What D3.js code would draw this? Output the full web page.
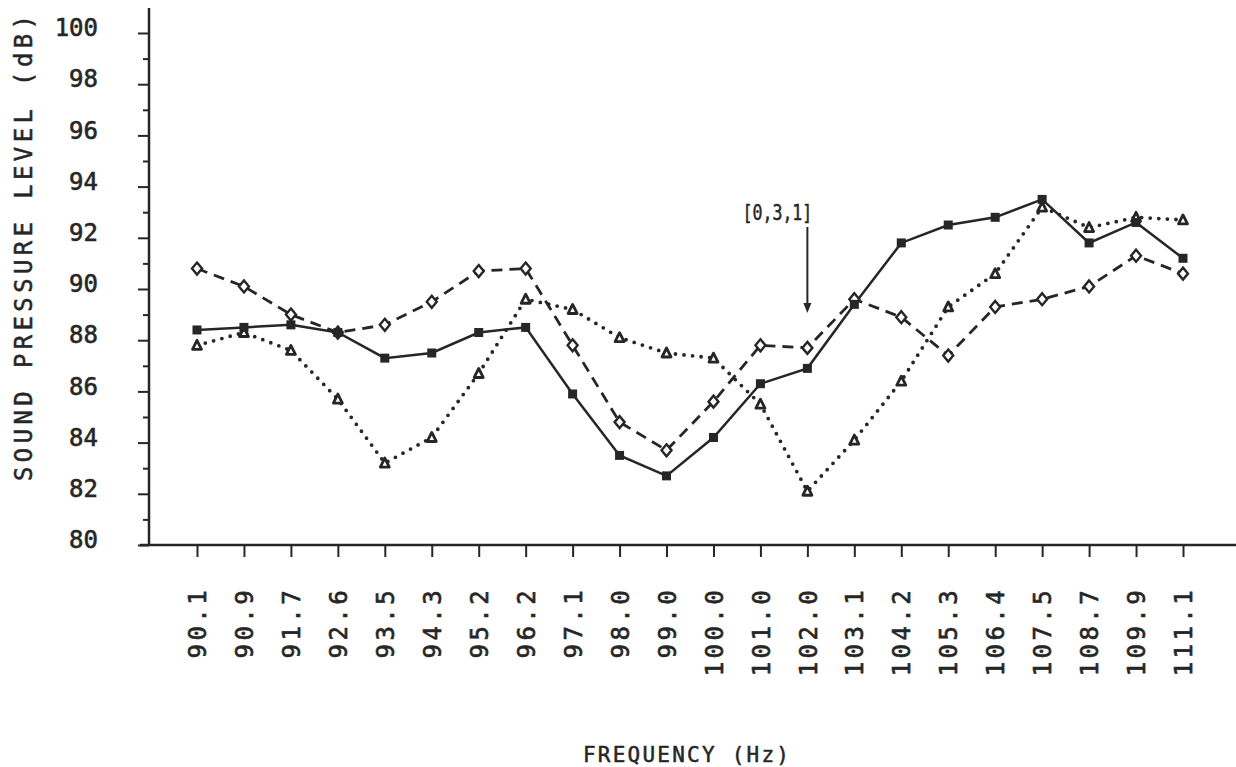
<!DOCTYPE html>
<html>
<head>
<meta charset="utf-8">
<script src="https://cdn.jsdelivr.net/npm/d3@7"></script>
<style>
  body { margin: 0; background: #fff; }
  svg { display: block; }
  .axis text { font-family: "DejaVu Sans Mono", monospace; fill: #262626; stroke: #262626; stroke-width: 0.6px; }
  .axis line, .axis path { stroke: #262626; }
  .title { font-family: "DejaVu Sans Mono", monospace; fill: #262626; stroke: #262626; stroke-width: 0.5px; }
</style>
</head>
<body>
<svg id="chart" width="1236" height="767"></svg>
<script>
// frequencies on the x axis
const frequencies = ["90.1", "90.9", "91.7", "92.6", "93.5", "94.3", "95.2", "96.2", "97.1", "98.0", "99.0",
    "100.0", "101.0", "102.0", "103.1", "104.2", "105.3", "106.4", "107.5", "108.7", "109.9", "111.1"];

// solid line, filled squares
const squareSeries = [88.4, 88.5, 88.6, 88.3, 87.3, 87.5, 88.3, 88.5, 85.9, 83.5, 82.7,
    84.2, 86.3, 86.9, 89.4, 91.8, 92.5, 92.8, 93.5, 91.8, 92.6, 91.2];

// dashed line, open diamonds
const diamondSeries = [90.8, 90.1, 89.0, 88.3, 88.6, 89.5, 90.7, 90.8, 87.8, 84.8, 83.7,
    85.6, 87.8, 87.7, 89.6, 88.9, 87.4, 89.3, 89.6, 90.1, 91.3, 90.6];

// dotted line, open triangles
const triangleSeries = [87.8, 88.3, 87.6, 85.7, 83.2, 84.2, 86.7, 89.6, 89.2, 88.1, 87.5,
    87.3, 85.5, 82.1, 84.1, 86.4, 89.3, 90.6, 93.2, 92.4, 92.8, 92.7];

const yTicks = d3.range(80, 101, 1);
const annotation = {freq: "102.0", label: "[0,3,1]"};

const ink = "#262626";
const svg = d3.select("#chart");

const x = d3.scalePoint().domain(frequencies).range([197, 1183]);
const y = d3.scaleLinear().domain([80, 100]).range([545, 33]);

// Y axis
const yAxis = d3.axisLeft(y).tickValues(yTicks).tickSize(10).tickSizeOuter(0)
    .tickFormat(d => d % 2 === 0 ? d : "");
const gy = svg.append("g").attr("class", "axis").attr("transform", "translate(149,0)").call(yAxis);
gy.select(".domain").remove();
gy.selectAll(".tick line")
    .attr("x2", d => d % 2 === 0 ? -11 : -6)
    .attr("stroke-width", 2);
gy.selectAll(".tick text")
    .attr("x", -51)
    .attr("dy", "0.32em")
    .attr("y", -5)
    .attr("font-size", "24px");
svg.append("line")
    .attr("x1", 149).attr("x2", 149)
    .attr("y1", 8).attr("y2", 546)
    .attr("stroke", ink).attr("stroke-width", 2.5);

// X axis
const xAxis = d3.axisBottom(x).tickSize(12).tickSizeOuter(0);
const gx = svg.append("g").attr("class", "axis").attr("transform", "translate(0,545)").call(xAxis);
gx.select(".domain").remove();
gx.selectAll(".tick line").attr("stroke-width", 2);
gx.selectAll(".tick text")
    .attr("transform", "rotate(-90)")
    .attr("x", -42)
    .attr("y", 0)
    .attr("dy", "0.36em")
    .attr("text-anchor", "end")
    .attr("font-size", "24px")
    .attr("letter-spacing", "3.4px");
svg.append("line")
    .attr("x1", 140).attr("x2", 1236)
    .attr("y1", 545).attr("y2", 545)
    .attr("stroke", ink).attr("stroke-width", 2.5);

// Axis titles
svg.append("text")
    .attr("class", "title")
    .attr("transform", "translate(32,248) rotate(-90)")
    .attr("text-anchor", "middle")
    .attr("font-size", "24px")
    .attr("textLength", 466)
    .attr("lengthAdjust", "spacing")
    .text("SOUND PRESSURE LEVEL (dB)");

svg.append("text")
    .attr("class", "title")
    .attr("x", 686)
    .attr("y", 762)
    .attr("text-anchor", "middle")
    .attr("font-size", "21px")
    .attr("textLength", 206)
    .attr("lengthAdjust", "spacing")
    .text("FREQUENCY (Hz)");

// Series
const line = d3.line().x((d, i) => x(frequencies[i])).y(d => y(d));

svg.append("path").datum(triangleSeries)
    .attr("d", line).attr("fill", "none")
    .attr("stroke", ink).attr("stroke-width", 3.8)
    .attr("stroke-linecap", "round")
    .attr("stroke-dasharray", "0 8.6");

svg.append("path").datum(diamondSeries)
    .attr("d", line).attr("fill", "none")
    .attr("stroke", ink).attr("stroke-width", 2.8)
    .attr("stroke-dasharray", "11 7");

svg.append("path").datum(squareSeries)
    .attr("d", line).attr("fill", "none")
    .attr("stroke", ink).attr("stroke-width", 2.5);

// Markers
svg.append("g").selectAll("path")
    .data(triangleSeries)
    .join("path")
    .attr("transform", (d, i) => `translate(${x(frequencies[i])},${y(d)})`)
    .attr("d", "M0,-5 L4.5,4 L-4.5,4 Z")
    .attr("fill", "#fff")
    .attr("stroke", ink)
    .attr("stroke-width", 2.8)
    .attr("stroke-linejoin", "round");

svg.append("g").selectAll("path")
    .data(diamondSeries)
    .join("path")
    .attr("transform", (d, i) => `translate(${x(frequencies[i])},${y(d)})`)
    .attr("d", "M0,-6 L5,0 L0,6 L-5,0 Z")
    .attr("fill", "#fff")
    .attr("stroke", ink)
    .attr("stroke-width", 2.4);

svg.append("g").selectAll("rect")
    .data(squareSeries)
    .join("rect")
    .attr("x", (d, i) => x(frequencies[i]) - 4.5)
    .attr("y", d => y(d) - 4.5)
    .attr("width", 9)
    .attr("height", 9)
    .attr("fill", ink);

// Annotation arrow
const ax = x(annotation.freq);
svg.append("text")
    .attr("class", "title")
    .attr("x", ax - 30)
    .attr("y", 220)
    .attr("text-anchor", "middle")
    .attr("font-size", "22px")
    .attr("textLength", 70)
    .attr("lengthAdjust", "spacingAndGlyphs")
    .text(annotation.label);
svg.append("line")
    .attr("x1", ax).attr("x2", ax)
    .attr("y1", 227).attr("y2", 306)
    .attr("stroke", ink).attr("stroke-width", 2);
svg.append("path")
    .attr("transform", `translate(${ax},313)`)
    .attr("d", "M0,0 L-4,-10 L4,-10 Z")
    .attr("fill", ink);
</script>
</body>
</html>
